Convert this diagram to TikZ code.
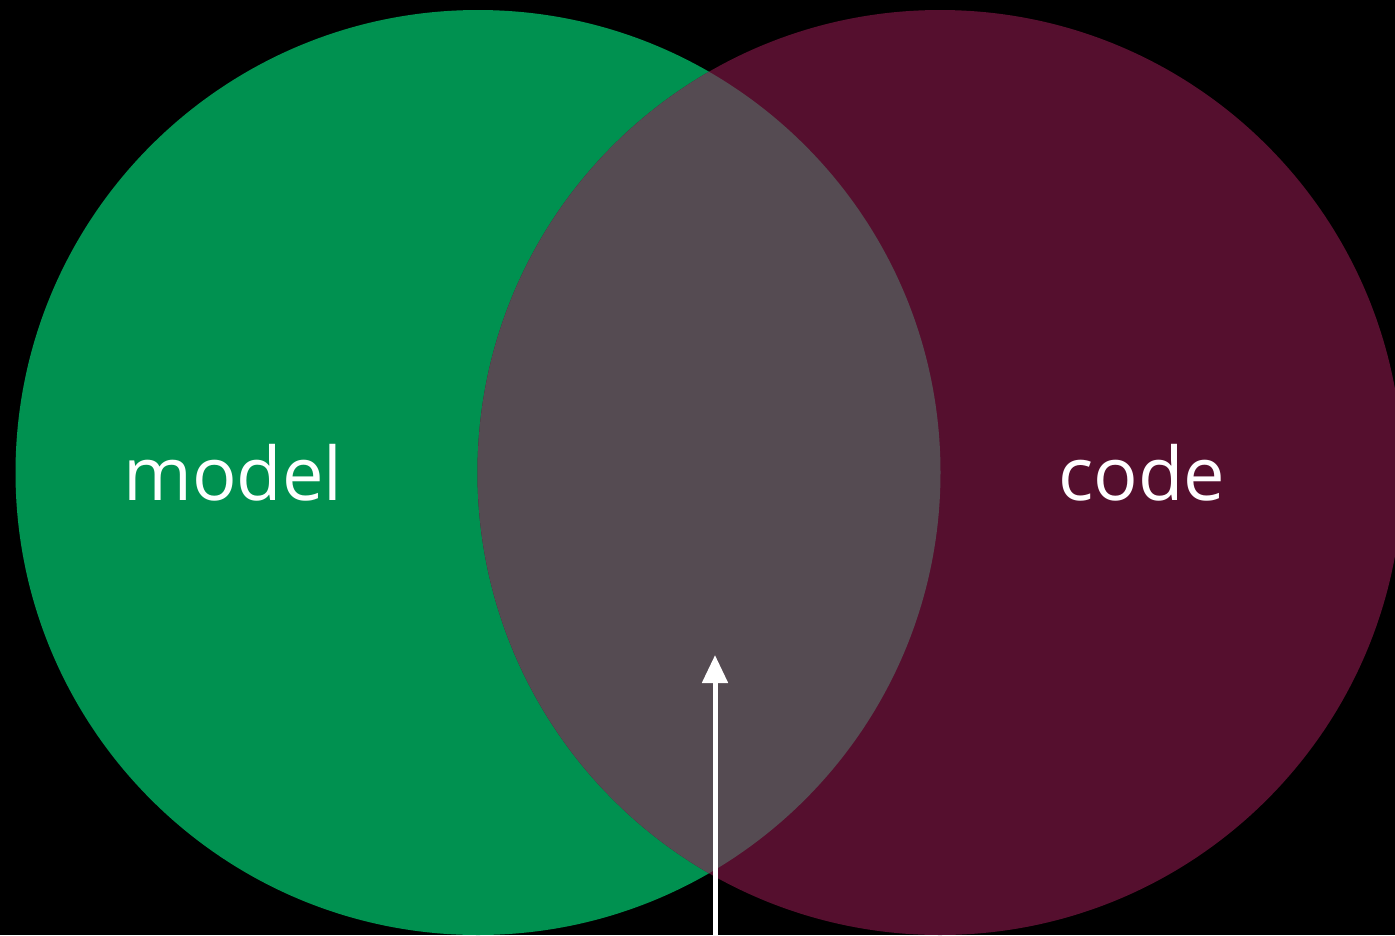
\documentclass[tikz,border=0pt]{standalone}
\usepackage{fontspec}
\setmainfont{Open Sans}
\usetikzlibrary{arrows.meta}
\definecolor{vgreen}{HTML}{009150}
\definecolor{vmaroon}{HTML}{550F2E}
\definecolor{vgray}{HTML}{554B52}
\tikzset{
  lbl/.style={text=white, font=\fontsize{74}{84}\selectfont, inner sep=0pt},
  pointer/.style={draw=white, line width=5pt, -{Triangle[width=25pt,length=28pt]}}
}
\begin{document}
\begin{tikzpicture}[x=1pt,y=-1pt]
\fill[black] (0,0) rectangle (1395,935);
\useasboundingbox (0,0) rectangle (1395,935);
\begin{scope}
\clip (0,0) rectangle (1395,935);
\fill[vgreen] (478,472.5) circle[radius=462.5];
\fill[vmaroon] (940,472.5) circle[radius=462.5];
\begin{scope}
\clip (478,472.5) circle[radius=462.5];
\fill[vgray] (940,472.5) circle[radius=462.5];
\end{scope}
\end{scope}
\node[lbl] (model) at (233,472.5) {model};
\node[lbl] (code) at (1141.5,472.5) {code};
\coordinate (base) at (715,935);
\coordinate (tip) at (715,655);
\draw[pointer] (base) -- (tip);
\end{tikzpicture}
\end{document}
